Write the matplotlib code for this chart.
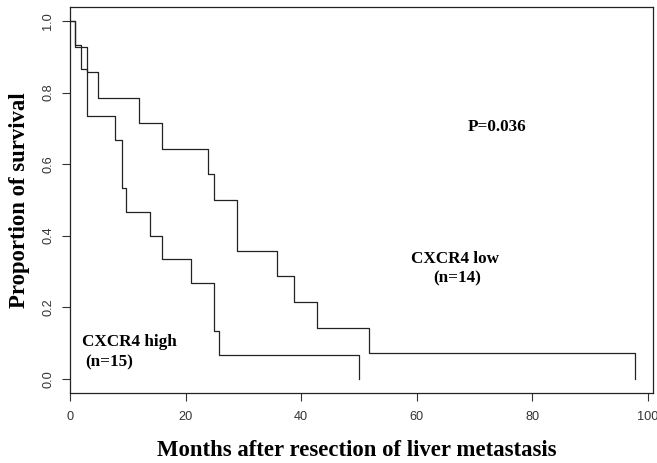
import numpy as np
import matplotlib
matplotlib.use("Agg")
from matplotlib import pyplot as plt

# event times (months), one entry per death
high_times = [0.8, 1.8, 2.8, 2.8, 7.8, 8.9, 8.9, 9.7, 13.8, 15.8, 20.8, 24.8, 24.8, 25.8, 50.0]
low_times = [0.8, 2.8, 4.8, 11.8, 15.8, 23.8, 24.8, 28.8, 28.8, 35.8, 38.8, 42.8, 51.8, 97.8]

xticks = [0, 20, 40, 60, 80, 100]
yticks = [0.0, 0.2, 0.4, 0.6, 0.8, 1.0]


def km_steps(times):
    n = len(times)
    t = np.sort(np.array(times))
    uniq, counts = np.unique(t, return_counts=True)
    surv = 1 - np.cumsum(counts) / n
    xs = np.concatenate([[0], uniq])
    ys = np.concatenate([[1.0], surv])
    return xs, ys


serif = "Liberation Serif"
sans = "Liberation Sans"

fig = plt.figure(figsize=(6.57, 4.63), dpi=100)
ax = fig.add_axes([0.1058, 0.1512, 0.8881, 0.8344])

for times in (high_times, low_times):
    xs, ys = km_steps(times)
    ax.step(xs, ys, where="post", color="#222222", lw=0.9)

ax.set_xlim(-0.17, 100.95)
ax.set_ylim(-0.04, 1.04)
ax.set_xticks(xticks)
ax.set_yticks(yticks)
ax.set_xticklabels([str(v) for v in xticks], fontfamily=sans, fontsize=9.2, color="#333333")
ax.set_yticklabels(["%.1f" % v for v in yticks], fontfamily=sans, fontsize=9.2,
                   color="#333333", rotation=90, va="center")
ax.tick_params(direction="out", length=6, width=0.8, color="#333333")
ax.tick_params(axis="x", pad=7)
ax.tick_params(axis="y", pad=5)
for sp in ax.spines.values():
    sp.set_linewidth(0.9)
    sp.set_color("#222222")

ax.set_xlabel("Months after resection of liver metastasis", fontfamily=serif,
              fontweight="bold", fontsize=16.4, va="center")
ax.xaxis.set_label_coords(0.492, -0.1476)
ax.set_ylabel("Proportion of survival", fontfamily=serif, fontweight="bold",
              fontsize=16.4, va="center")
ax.yaxis.set_label_coords(-0.085, 0.5)

ax.text(74, 0.705, "P=0.036", fontfamily=serif, fontweight="bold", fontsize=12.3,
        ha="center", va="center")
ax.text(66.7, 0.335, "CXCR4 low", fontfamily=serif, fontweight="bold", fontsize=12.3,
        ha="center", va="center")
ax.text(67.0, 0.28, "(n=14)", fontfamily=serif, fontweight="bold", fontsize=12.3,
        ha="center", va="center")
ax.text(1.95, 0.103, "CXCR4 high", fontfamily=serif, fontweight="bold", fontsize=12.3,
        ha="left", va="center")
ax.text(2.5, 0.046, "(n=15)", fontfamily=serif, fontweight="bold", fontsize=12.3,
        ha="left", va="center")

fig.savefig("out.png", dpi=100)
